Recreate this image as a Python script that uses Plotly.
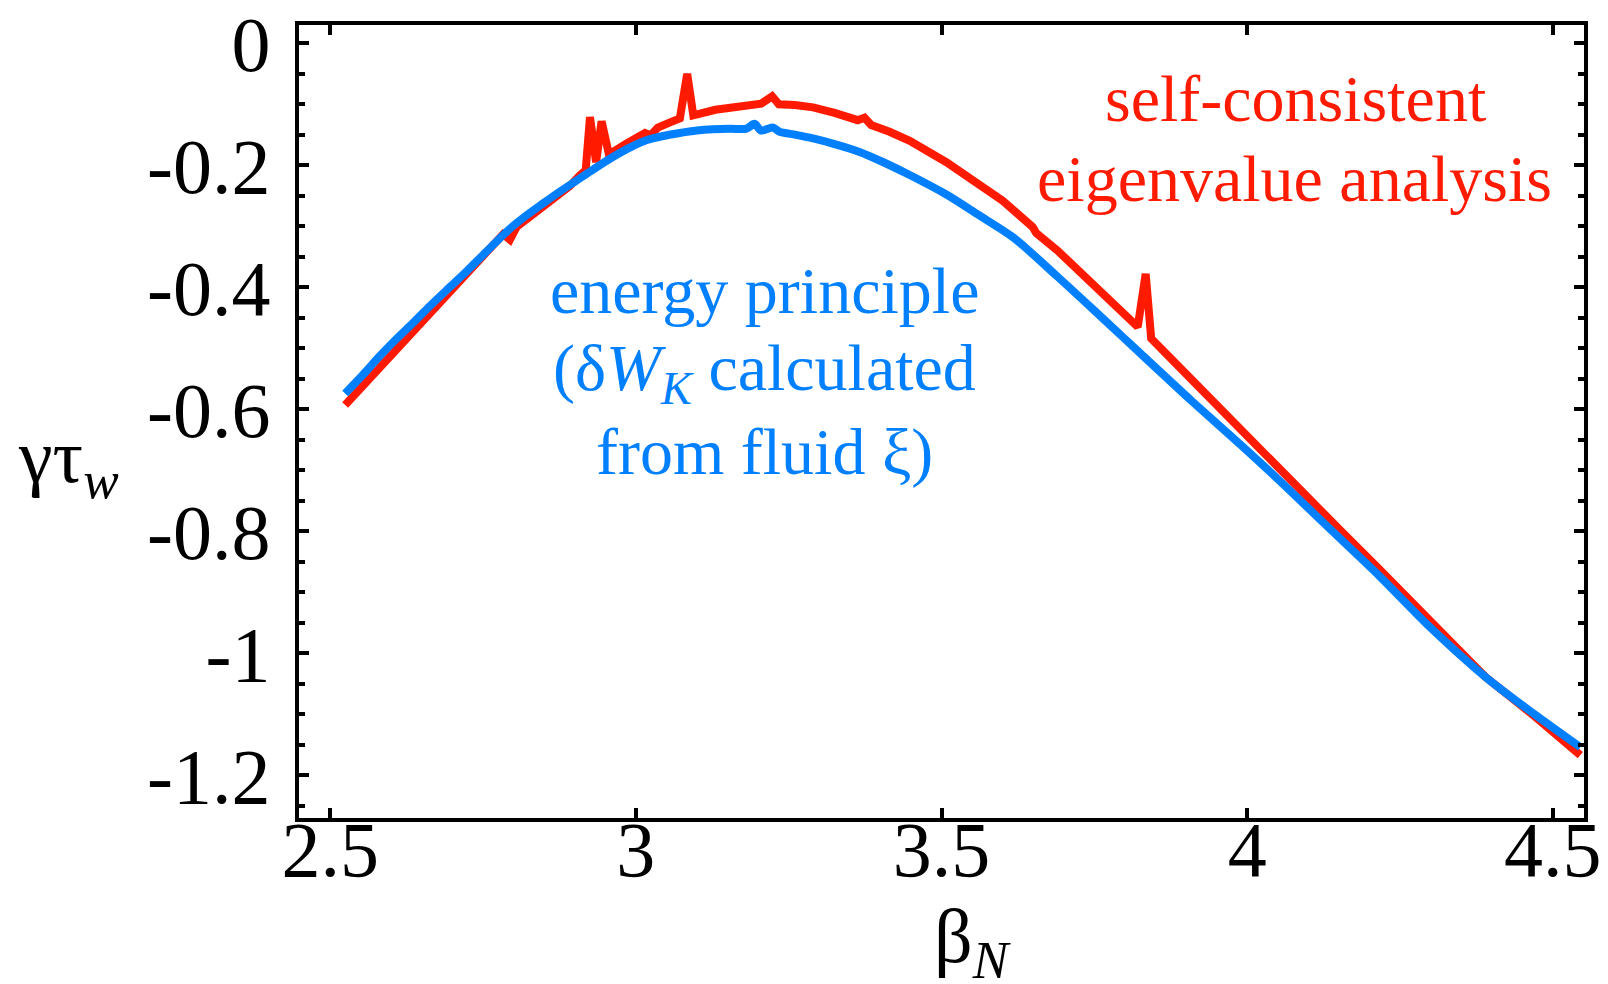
import plotly.graph_objects as go

# ---------------- data ----------------
beta_blue = [2.5245, 2.554, 2.580, 2.609, 2.636, 2.663, 2.690, 2.718, 2.756, 2.794,
             2.820, 2.849, 2.876, 2.903, 2.933, 2.963, 2.990, 3.017, 3.045, 3.072,
             3.100, 3.126, 3.155, 3.181, 3.194, 3.205, 3.224, 3.235, 3.262, 3.290,
             3.328, 3.366, 3.405, 3.448, 3.508, 3.560, 3.617, 3.687, 3.750, 3.840,
             3.910, 3.987, 4.052, 4.129, 4.216, 4.300, 4.390, 4.470, 4.545]
gamma_blue = [-0.574, -0.543, -0.514, -0.484, -0.458, -0.431, -0.405, -0.379, -0.341, -0.304,
              -0.283, -0.262, -0.243, -0.225, -0.205, -0.186, -0.171, -0.159, -0.152, -0.147,
              -0.143, -0.141, -0.140, -0.140, -0.132, -0.143, -0.138, -0.145, -0.150, -0.156,
              -0.166, -0.178, -0.195, -0.216, -0.248, -0.281, -0.318, -0.380, -0.438, -0.522,
              -0.587, -0.656, -0.716, -0.790, -0.873, -0.958, -1.039, -1.100, -1.154]

beta_red = [2.5245, 2.554, 2.582, 2.609, 2.636, 2.663, 2.690, 2.718, 2.750, 2.783,
            2.794, 2.805, 2.827, 2.849, 2.870, 2.892, 2.908, 2.918, 2.925, 2.935,
            2.944, 2.956, 2.985, 3.015, 3.024, 3.036, 3.055, 3.072, 3.084, 3.094,
            3.130, 3.170, 3.205, 3.223, 3.234, 3.260, 3.290, 3.325, 3.363, 3.374,
            3.385, 3.415, 3.448, 3.508, 3.550, 3.600, 3.649, 3.655, 3.690, 3.736,
            3.780, 3.821, 3.834, 3.843, 3.900, 3.992, 4.069, 4.150, 4.216, 4.300,
            4.390, 4.470, 4.545]
gamma_red = [-0.593, -0.561, -0.531, -0.501, -0.473, -0.443, -0.412, -0.383, -0.348, -0.313,
             -0.322, -0.301, -0.284, -0.268, -0.251, -0.234, -0.217, -0.208, -0.121, -0.195,
             -0.128, -0.182, -0.164, -0.147, -0.151, -0.138, -0.130, -0.123, -0.050, -0.118,
             -0.109, -0.102, -0.099, -0.087, -0.100, -0.101, -0.105, -0.114, -0.126, -0.122,
             -0.134, -0.145, -0.160, -0.195, -0.222, -0.258, -0.301, -0.311, -0.340, -0.383,
             -0.426, -0.465, -0.378, -0.484, -0.542, -0.637, -0.714, -0.796, -0.862, -0.947,
             -1.039, -1.103, -1.167]

x_tickvals = [2.5, 3.0, 3.5, 4.0, 4.5]
x_ticktext = ["2.5", "3", "3.5", "4", "4.5"]
y_tickvals = [0, -0.2, -0.4, -0.6, -0.8, -1.0, -1.2]
y_ticktext = ["0", "-0.2", "-0.4", "-0.6", "-0.8", "-1", "-1.2"]

RED = "#FF1A00"
BLUE = "#0080FF"
FONT = "Liberation Serif"

W, H = 1608, 984
ML, MR, MT, MB = 299, 24, 25, 166
PW, PH = W - ML - MR, H - MT - MB


def px(xp):
    return (xp - ML) / PW


def py(yp):
    return (H - MB - yp) / PH


fig = go.Figure()
fig.add_trace(go.Scatter(x=beta_red, y=gamma_red, mode="lines",
                         line=dict(color=RED, width=8), showlegend=False))
fig.add_trace(go.Scatter(x=beta_blue, y=gamma_blue, mode="lines",
                         line=dict(color=BLUE, width=8, shape="spline", smoothing=0.8),
                         showlegend=False))

axis_common = dict(showline=True, linecolor="black", linewidth=4, mirror="ticks",
                   ticks="inside", tickcolor="black", tickwidth=3.5, ticklen=10,
                   showgrid=False, zeroline=False, automargin=False,
                   tickfont=dict(family=FONT, size=78, color="black"))

fig.update_xaxes(range=[2.449, 4.551], tickvals=x_tickvals, ticktext=x_ticktext,
                 ticklabelstandoff=-40, **axis_common)
fig.update_yaxes(range=[-1.27, 0.03], tickvals=y_tickvals, ticktext=y_ticktext,
                 ticklabelstandoff=9,
                 minor=dict(tickvals=[-0.05 * k for k in range(0, 26)], ticks="inside",
                            ticklen=6, tickwidth=3.5, tickcolor="black", showgrid=False),
                 **axis_common)

annos = [
    # axis titles
    dict(x=px(972), y=py(942), text="β<sub><i>N</i></sub>", size=76, color="black"),
    dict(x=px(68), y=py(462), text="γτ<sub><i>w</i></sub>", size=76, color="black"),
    # red label
    dict(x=px(1295), y=py(98), text="self-consistent", size=66, color=RED),
    dict(x=px(1294), y=py(178), text="eigenvalue analysis", size=66, color=RED),
    # blue label
    dict(x=px(764), y=py(290), text="energy principle", size=66, color=BLUE),
    dict(x=px(764), y=py(372), text="(δ<i>W<sub>K</sub></i> calculated", size=66, color=BLUE),
    dict(x=px(764), y=py(452), text="from fluid ξ)", size=66, color=BLUE),
]
for a in annos:
    fig.add_annotation(x=a["x"], y=a["y"], xref="paper", yref="paper", text=a["text"],
                       showarrow=False, xanchor="center", yanchor="middle",
                       font=dict(family=FONT, size=a["size"], color=a["color"]))

fig.update_layout(width=W, height=H, margin=dict(l=ML, r=MR, t=MT, b=MB),
                  paper_bgcolor="white", plot_bgcolor="white",
                  font=dict(family=FONT))

fig.write_html("out.html")
